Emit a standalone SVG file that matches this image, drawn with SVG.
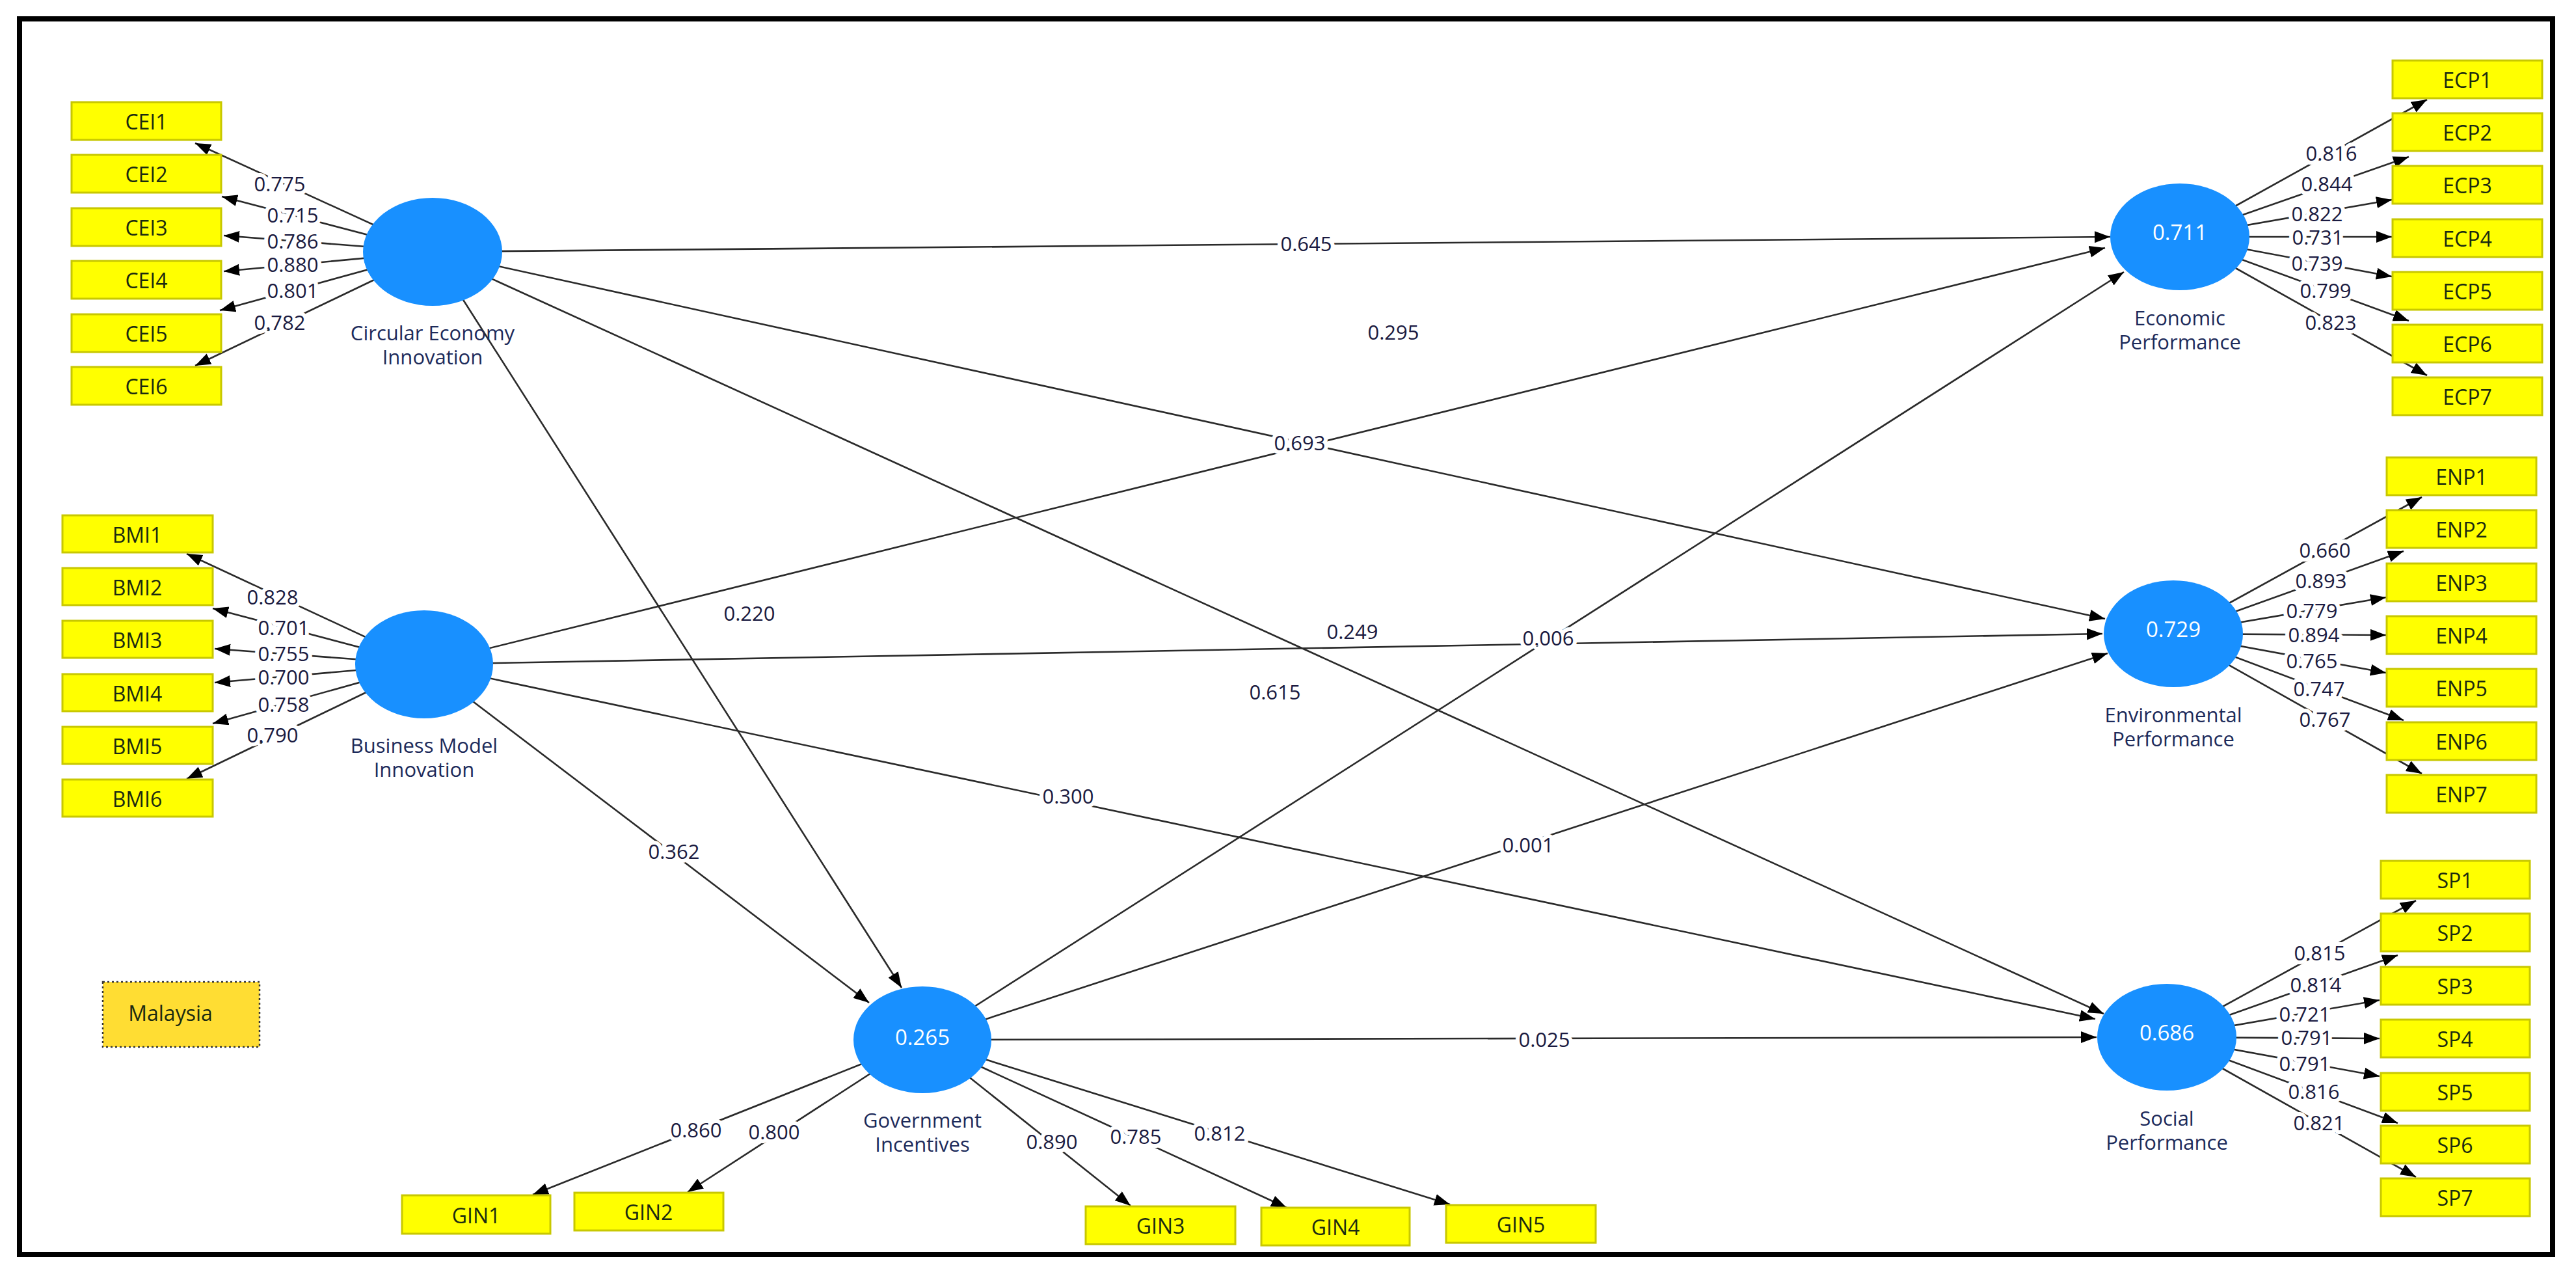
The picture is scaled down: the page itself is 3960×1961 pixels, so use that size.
<svg xmlns="http://www.w3.org/2000/svg" width="3960" height="1961" viewBox="0 0 3960 1961">
<style>
.ln{stroke:#2a2a2a;stroke-width:2.6;fill:none;marker-end:url(#ah)}
.lb{font-family:"Open Sans","Liberation Sans",sans-serif;font-size:31px;fill:#1a1a40;text-anchor:middle;dominant-baseline:central;paint-order:stroke;stroke:#fff;stroke-width:12px;stroke-linejoin:round}
.box{fill:#ffff00;stroke:#c8c800;stroke-width:3}
.bt{font-family:"Open Sans","Liberation Sans",sans-serif;font-size:32px;fill:#1a2a10;text-anchor:middle;dominant-baseline:central}
.lv{fill:#1890ff}
.lvv{font-family:"Open Sans","Liberation Sans",sans-serif;font-size:33px;fill:#fff;text-anchor:middle;dominant-baseline:central}
.lvn{font-family:"Open Sans","Liberation Sans",sans-serif;font-size:31px;fill:#1c2a5a;text-anchor:middle}
</style>
<defs>
<marker id="ah" markerUnits="userSpaceOnUse" markerWidth="26" markerHeight="20" refX="24" refY="9" orient="auto"><path d="M0,0 L24,9 L0,18 z" fill="#000"/></marker>
</defs>
<rect width="3960" height="1961" fill="#fff"/>
<rect x="30" y="29" width="3894" height="1899" fill="none" stroke="#000" stroke-width="8"/>
<g id="connectors">
<!-- CEI loadings -->
<line class="ln" x1="665" y1="387" x2="300" y2="220"/>
<line class="ln" x1="665" y1="387" x2="341" y2="302"/>
<line class="ln" x1="665" y1="387" x2="344" y2="362"/>
<line class="ln" x1="665" y1="387" x2="344" y2="417"/>
<line class="ln" x1="665" y1="387" x2="338" y2="477"/>
<line class="ln" x1="665" y1="387" x2="300" y2="562"/>
<!-- BMI loadings -->
<line class="ln" x1="652" y1="1021" x2="287" y2="851"/>
<line class="ln" x1="652" y1="1021" x2="327" y2="935"/>
<line class="ln" x1="652" y1="1021" x2="330" y2="997"/>
<line class="ln" x1="652" y1="1021" x2="330" y2="1049"/>
<line class="ln" x1="652" y1="1021" x2="327" y2="1112"/>
<line class="ln" x1="652" y1="1021" x2="287" y2="1197"/>
<!-- EcP loadings -->
<line class="ln" x1="3351" y1="364" x2="3731" y2="153"/>
<line class="ln" x1="3351" y1="364" x2="3703" y2="241"/>
<line class="ln" x1="3351" y1="364" x2="3677" y2="307"/>
<line class="ln" x1="3351" y1="364" x2="3677" y2="364"/>
<line class="ln" x1="3351" y1="364" x2="3677" y2="425"/>
<line class="ln" x1="3351" y1="364" x2="3703" y2="493"/>
<line class="ln" x1="3351" y1="364" x2="3731" y2="577"/>
<!-- EnvP loadings -->
<line class="ln" x1="3341" y1="974" x2="3723" y2="764"/>
<line class="ln" x1="3341" y1="974" x2="3695" y2="847"/>
<line class="ln" x1="3341" y1="974" x2="3668" y2="918"/>
<line class="ln" x1="3341" y1="974" x2="3668" y2="976"/>
<line class="ln" x1="3341" y1="974" x2="3668" y2="1034"/>
<line class="ln" x1="3341" y1="974" x2="3695" y2="1107"/>
<line class="ln" x1="3341" y1="974" x2="3723" y2="1189"/>
<!-- SocP loadings -->
<line class="ln" x1="3331" y1="1594" x2="3714" y2="1384"/>
<line class="ln" x1="3331" y1="1594" x2="3686" y2="1468"/>
<line class="ln" x1="3331" y1="1594" x2="3658" y2="1537"/>
<line class="ln" x1="3331" y1="1594" x2="3658" y2="1596"/>
<line class="ln" x1="3331" y1="1594" x2="3658" y2="1654"/>
<line class="ln" x1="3331" y1="1594" x2="3686" y2="1726"/>
<line class="ln" x1="3331" y1="1594" x2="3714" y2="1809"/>
<!-- GI loadings -->
<line class="ln" x1="1418" y1="1598" x2="819" y2="1836"/>
<line class="ln" x1="1418" y1="1598" x2="1057" y2="1832"/>
<line class="ln" x1="1418" y1="1598" x2="1738" y2="1853"/>
<line class="ln" x1="1418" y1="1598" x2="1978" y2="1856"/>
<line class="ln" x1="1418" y1="1598" x2="2229" y2="1851"/>
<!-- structural paths -->
<line class="ln" x1="665" y1="387" x2="3244" y2="364"/>
<line class="ln" x1="665" y1="387" x2="3236" y2="951"/>
<line class="ln" x1="665" y1="387" x2="3234" y2="1558"/>
<line class="ln" x1="665" y1="387" x2="1386" y2="1518"/>
<line class="ln" x1="652" y1="1021" x2="3236" y2="381"/>
<line class="ln" x1="652" y1="1021" x2="3232" y2="974"/>
<line class="ln" x1="652" y1="1021" x2="3221" y2="1566"/>
<line class="ln" x1="652" y1="1021" x2="1336" y2="1541"/>
<line class="ln" x1="1418" y1="1598" x2="3265" y2="418"/>
<line class="ln" x1="1418" y1="1598" x2="3240" y2="1004"/>
<line class="ln" x1="1418" y1="1598" x2="3223" y2="1594"/>
<!-- labels -->
<text class="lb" x="430" y="282">0.775</text>
<text class="lb" x="450" y="330">0.715</text>
<text class="lb" x="450" y="370">0.786</text>
<text class="lb" x="450" y="406">0.880</text>
<text class="lb" x="450" y="446">0.801</text>
<text class="lb" x="430" y="495">0.782</text>
<text class="lb" x="419" y="917">0.828</text>
<text class="lb" x="436" y="964">0.701</text>
<text class="lb" x="436" y="1004">0.755</text>
<text class="lb" x="436" y="1040">0.700</text>
<text class="lb" x="436" y="1082">0.758</text>
<text class="lb" x="419" y="1129">0.790</text>
<text class="lb" x="3584" y="235">0.816</text>
<text class="lb" x="3577" y="282">0.844</text>
<text class="lb" x="3562" y="328">0.822</text>
<text class="lb" x="3563" y="364">0.731</text>
<text class="lb" x="3562" y="404">0.739</text>
<text class="lb" x="3575" y="446">0.799</text>
<text class="lb" x="3583" y="495">0.823</text>
<text class="lb" x="3574" y="845">0.660</text>
<text class="lb" x="3568" y="892">0.893</text>
<text class="lb" x="3554" y="938">0.779</text>
<text class="lb" x="3557" y="975">0.894</text>
<text class="lb" x="3554" y="1015">0.765</text>
<text class="lb" x="3565" y="1058">0.747</text>
<text class="lb" x="3574" y="1105">0.767</text>
<text class="lb" x="3566" y="1464">0.815</text>
<text class="lb" x="3560" y="1513">0.814</text>
<text class="lb" x="3543" y="1558">0.721</text>
<text class="lb" x="3546" y="1594">0.791</text>
<text class="lb" x="3543" y="1634">0.791</text>
<text class="lb" x="3557" y="1677">0.816</text>
<text class="lb" x="3565" y="1725">0.821</text>
<text class="lb" x="1070" y="1736">0.860</text>
<text class="lb" x="1190" y="1739">0.800</text>
<text class="lb" x="1617" y="1754">0.890</text>
<text class="lb" x="1746" y="1746">0.785</text>
<text class="lb" x="1875" y="1741">0.812</text>
<text class="lb" x="2008" y="374">0.645</text>
<text class="lb" x="1998" y="680">0.693</text>
<text class="lb" x="1960" y="1063">0.615</text>
<text class="lb" x="1152" y="942">0.220</text>
<text class="lb" x="2142" y="510">0.295</text>
<text class="lb" x="2079" y="970">0.249</text>
<text class="lb" x="1642" y="1223">0.300</text>
<text class="lb" x="1036" y="1308">0.362</text>
<text class="lb" x="2380" y="980">0.006</text>
<text class="lb" x="2349" y="1298">0.001</text>
<text class="lb" x="2374" y="1597">0.025</text>
</g>
<g id="CEI">
<ellipse class="lv" cx="665" cy="387" rx="107" ry="83"/>
<text class="lvn" x="665" y="523">Circular Economy</text>
<text class="lvn" x="665" y="560">Innovation</text>
</g>
<g id="BMI">
<ellipse class="lv" cx="652" cy="1021" rx="106" ry="83"/>
<text class="lvn" x="652" y="1157">Business Model</text>
<text class="lvn" x="652" y="1194">Innovation</text>
</g>
<g id="GI">
<ellipse class="lv" cx="1418" cy="1598" rx="106" ry="82"/>
<text class="lvv" x="1418" y="1593">0.265</text>
<text class="lvn" x="1418" y="1733">Government</text>
<text class="lvn" x="1418" y="1770">Incentives</text>
</g>
<g id="EcP">
<ellipse class="lv" cx="3351" cy="364" rx="107" ry="82"/>
<text class="lvv" x="3351" y="356">0.711</text>
<text class="lvn" x="3351" y="500">Economic</text>
<text class="lvn" x="3351" y="537">Performance</text>
</g>
<g id="EnvP">
<ellipse class="lv" cx="3341" cy="974" rx="107" ry="82"/>
<text class="lvv" x="3341" y="966">0.729</text>
<text class="lvn" x="3341" y="1110">Environmental</text>
<text class="lvn" x="3341" y="1147">Performance</text>
</g>
<g id="SocP">
<ellipse class="lv" cx="3331" cy="1594" rx="107" ry="82"/>
<text class="lvv" x="3331" y="1586">0.686</text>
<text class="lvn" x="3331" y="1730">Social</text>
<text class="lvn" x="3331" y="1767">Performance</text>
</g>
<g id="CEI1"><rect class="box" x="110" y="157" width="230" height="58"/><text class="bt" x="225" y="186">CEI1</text></g>
<g id="CEI2"><rect class="box" x="110" y="238" width="230" height="58"/><text class="bt" x="225" y="267">CEI2</text></g>
<g id="CEI3"><rect class="box" x="110" y="320" width="230" height="58"/><text class="bt" x="225" y="349">CEI3</text></g>
<g id="CEI4"><rect class="box" x="110" y="401" width="230" height="58"/><text class="bt" x="225" y="430">CEI4</text></g>
<g id="CEI5"><rect class="box" x="110" y="483" width="230" height="58"/><text class="bt" x="225" y="512">CEI5</text></g>
<g id="CEI6"><rect class="box" x="110" y="564" width="230" height="58"/><text class="bt" x="225" y="593">CEI6</text></g>
<g id="BMI1"><rect class="box" x="96" y="792" width="231" height="57"/><text class="bt" x="211" y="821">BMI1</text></g>
<g id="BMI2"><rect class="box" x="96" y="873" width="231" height="57"/><text class="bt" x="211" y="902">BMI2</text></g>
<g id="BMI3"><rect class="box" x="96" y="954" width="231" height="57"/><text class="bt" x="211" y="983">BMI3</text></g>
<g id="BMI4"><rect class="box" x="96" y="1036" width="231" height="57"/><text class="bt" x="211" y="1065">BMI4</text></g>
<g id="BMI5"><rect class="box" x="96" y="1117" width="231" height="57"/><text class="bt" x="211" y="1146">BMI5</text></g>
<g id="BMI6"><rect class="box" x="96" y="1198" width="231" height="57"/><text class="bt" x="211" y="1227">BMI6</text></g>
<g id="Malaysia"><rect x="158" y="1509" width="241" height="100" fill="#ffdd33" stroke="#333" stroke-width="2.5" stroke-dasharray="3 4"/><text class="bt" x="262" y="1556">Malaysia</text></g>
<g id="ECP1"><rect class="box" x="3678" y="93" width="230" height="58"/><text class="bt" x="3793" y="122">ECP1</text></g>
<g id="ECP2"><rect class="box" x="3678" y="174" width="230" height="58"/><text class="bt" x="3793" y="203">ECP2</text></g>
<g id="ECP3"><rect class="box" x="3678" y="255" width="230" height="58"/><text class="bt" x="3793" y="284">ECP3</text></g>
<g id="ECP4"><rect class="box" x="3678" y="337" width="230" height="58"/><text class="bt" x="3793" y="366">ECP4</text></g>
<g id="ECP5"><rect class="box" x="3678" y="418" width="230" height="58"/><text class="bt" x="3793" y="447">ECP5</text></g>
<g id="ECP6"><rect class="box" x="3678" y="499" width="230" height="58"/><text class="bt" x="3793" y="528">ECP6</text></g>
<g id="ECP7"><rect class="box" x="3678" y="580" width="230" height="58"/><text class="bt" x="3793" y="609">ECP7</text></g>
<g id="ENP1"><rect class="box" x="3669" y="703" width="230" height="58"/><text class="bt" x="3784" y="732">ENP1</text></g>
<g id="ENP2"><rect class="box" x="3669" y="784" width="230" height="58"/><text class="bt" x="3784" y="813">ENP2</text></g>
<g id="ENP3"><rect class="box" x="3669" y="866" width="230" height="58"/><text class="bt" x="3784" y="895">ENP3</text></g>
<g id="ENP4"><rect class="box" x="3669" y="947" width="230" height="58"/><text class="bt" x="3784" y="976">ENP4</text></g>
<g id="ENP5"><rect class="box" x="3669" y="1028" width="230" height="58"/><text class="bt" x="3784" y="1057">ENP5</text></g>
<g id="ENP6"><rect class="box" x="3669" y="1110" width="230" height="58"/><text class="bt" x="3784" y="1139">ENP6</text></g>
<g id="ENP7"><rect class="box" x="3669" y="1191" width="230" height="58"/><text class="bt" x="3784" y="1220">ENP7</text></g>
<g id="SP1"><rect class="box" x="3660" y="1323" width="229" height="58"/><text class="bt" x="3774" y="1352">SP1</text></g>
<g id="SP2"><rect class="box" x="3660" y="1404" width="229" height="58"/><text class="bt" x="3774" y="1433">SP2</text></g>
<g id="SP3"><rect class="box" x="3660" y="1486" width="229" height="58"/><text class="bt" x="3774" y="1515">SP3</text></g>
<g id="SP4"><rect class="box" x="3660" y="1567" width="229" height="58"/><text class="bt" x="3774" y="1596">SP4</text></g>
<g id="SP5"><rect class="box" x="3660" y="1649" width="229" height="58"/><text class="bt" x="3774" y="1678">SP5</text></g>
<g id="SP6"><rect class="box" x="3660" y="1730" width="229" height="58"/><text class="bt" x="3774" y="1759">SP6</text></g>
<g id="SP7"><rect class="box" x="3660" y="1811" width="229" height="58"/><text class="bt" x="3774" y="1840">SP7</text></g>
<g id="GIN1"><rect class="box" x="618" y="1837" width="228" height="59"/><text class="bt" x="732" y="1867">GIN1</text></g>
<g id="GIN2"><rect class="box" x="883" y="1833" width="229" height="58"/><text class="bt" x="997" y="1862">GIN2</text></g>
<g id="GIN3"><rect class="box" x="1669" y="1854" width="230" height="58"/><text class="bt" x="1784" y="1883">GIN3</text></g>
<g id="GIN4"><rect class="box" x="1939" y="1856" width="228" height="58"/><text class="bt" x="2053" y="1885">GIN4</text></g>
<g id="GIN5"><rect class="box" x="2223" y="1852" width="230" height="58"/><text class="bt" x="2338" y="1881">GIN5</text></g>
</svg>
